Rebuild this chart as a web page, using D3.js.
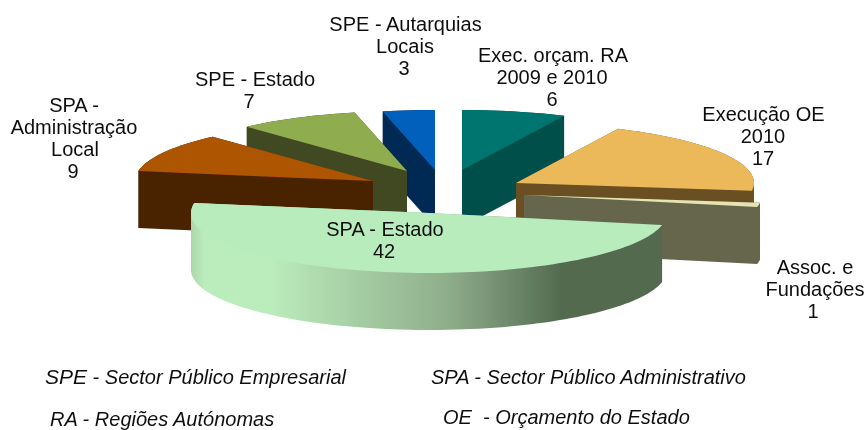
<!DOCTYPE html>
<html><head><meta charset="utf-8">
<script src="https://cdnjs.cloudflare.com/ajax/libs/d3/7.8.5/d3.min.js"></script>
<style>html,body{margin:0;background:#fff}svg{display:block}text{font-family:"Liberation Sans",Arial,sans-serif;fill:#111}</style>
</head><body><svg id="c" width="867" height="430"></svg>
<script>
const categories=["Exec. orçam. RA 2009 e 2010","Execução OE 2010","Assoc. e Fundações","SPA - Estado","SPA - Administração Local","SPE - Estado","SPE - Autarquias Locais"];
const values=[6,17,1,42,9,7,3];
const topColors=["#00756f","#ebb95a","#e6e4b0","#b9ecbc","#ad5404","#8fac50","#0060bb"];
const wallColors=["#00504c","#6b4f24","#66664e","url(#gw)","#4a2300","#404a24","#002a52"];
const apexX=[462,516,524,429,373,407,435];
const apexY=[170,183,195,213,181,171,170];
const drawOrder=[6,0,5,4,1,2,3];
const labelLines=[
 [["SPE - Autarquias",405.5,31],["Locais",405,53],["3",404,75]],
 [["Exec. orçam. RA",553,62],["2009 e 2010",552,84],["6",552,106]],
 [["Execução OE",763.5,121],["2010",763,143],["17",763,165]],
 [["Assoc. e",815,274],["Fundações",815,296],["1",813,318]],
 [["SPA - Estado",385,236],["42",384,258]],
 [["SPA -",74,112],["Administração",74,134],["Local",75,156],["9",73,178]],
 [["SPE - Estado",255,86],["7",249,108]]
];
const legendItems=[
 ["SPE"," - Sector Público Empresarial",45,384],
 ["","SPA - Sector Público Administrativo",431,384],
 ["","RA - Regiões Autónomas",50,426],
 ["","OE\u00a0 - Orçamento do Estado",443,424]
];
const RX=238,RY=60,DEPTH=57;
const svg=d3.select("#c");
const defs=svg.append("defs");
const g=defs.append("linearGradient").attr("id","gw").attr("gradientUnits","userSpaceOnUse").attr("x1",190).attr("x2",662).attr("y1",0).attr("y2",0);
[[0,"#a9d6aa"],[0.03,"#bbecbc"],[0.17,"#bbecbc"],[0.545,"#8fae8b"],[0.79,"#526a50"],[1,"#526a50"]].forEach(s=>g.append("stop").attr("offset",s[0]).attr("stop-color",s[1]));
defs.append("filter").attr("id","soft").append("feGaussianBlur").attr("stdDeviation",0.6);
defs.append("filter").attr("id","softText").append("feGaussianBlur").attr("stdDeviation",0.3);
const pie=d3.pie().sort(null).value(d=>d);
const arcs=pie(values);
const line=d3.line();
const lay=svg.append("g").attr("filter","url(#soft)");
function rim(a,i){
  const n=Math.max(4,Math.ceil((a.endAngle-a.startAngle)*30));
  return d3.range(n+1).map(k=>{
    const t=a.startAngle+(a.endAngle-a.startAngle)*k/n;
    return [apexX[i]+RX*Math.sin(t),apexY[i]-RY*Math.cos(t)];
  });
}
drawOrder.forEach(i=>{
  const a=arcs[i];
  const top=[[apexX[i],apexY[i]],...rim(a,i)];
  const all=top.concat(top.map(p=>[p[0],p[1]+DEPTH]));
  lay.append("path").attr("d",line(d3.polygonHull(all))+"Z").attr("fill",wallColors[i]);
  lay.append("path").attr("d",line(top)+"Z").attr("fill",topColors[i]);
});
const txt=svg.append("g").attr("filter","url(#softText)");
labelLines.forEach(ls=>ls.forEach(l=>{
  txt.append("text").attr("x",l[1]).attr("y",l[2]).attr("text-anchor","middle").attr("font-size",20).text(l[0]);
}));
legendItems.forEach(l=>{
  const t=txt.append("text").attr("x",l[2]).attr("y",l[3]).attr("font-style","italic").attr("font-size",20);
  if(l[0]) t.append("tspan").attr("font-size",21).text(l[0]);
  t.append("tspan").text(l[1]);
});
</script></body></html>
